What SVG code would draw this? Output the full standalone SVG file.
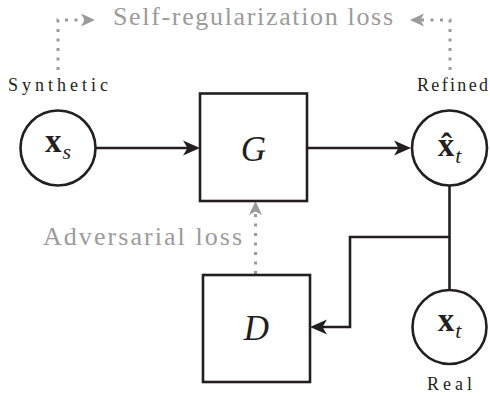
<svg xmlns="http://www.w3.org/2000/svg" width="490" height="396" viewBox="0 0 490 396" font-family="'Liberation Serif', 'Times New Roman', Times, 'DejaVu Serif', serif">
  <style>
    .node { fill: #ffffff; stroke: #231f20; stroke-width: 2.6; }
    .wire { fill: none; stroke: #231f20; stroke-width: 2.6; }
    .dots { fill: none; stroke: #9b9b9b; stroke-width: 3; stroke-dasharray: 3 6.5; }
    .loss { font-size: 26px; fill: #9b9b9b; }
    .cap  { font-size: 18px; fill: #231f20; }
    .math { font-size: 33px; fill: #231f20; }
    .op   { font-size: 35px; font-style: italic; fill: #231f20; }
    .sub  { font-size: 22px; font-style: italic; font-weight: normal; }
  </style>
  <defs>
    <!-- stealth-style heads; the tip sits ahead of the path end -->
    <marker id="head" markerUnits="userSpaceOnUse" viewBox="-8 -8 19 16" refX="0" refY="0" markerWidth="19" markerHeight="16" orient="auto">
      <path d="M10,0 L-7,-7.5 L-2.5,0 L-7,7.5 Z" fill="#231f20"/>
    </marker>
    <marker id="grayhead" markerUnits="userSpaceOnUse" viewBox="-7 -7 16 14" refX="0" refY="0" markerWidth="16" markerHeight="14" orient="auto">
      <path d="M8,0 L-6,-6.5 L-2.5,0 L-6,6.5 Z" fill="#9b9b9b"/>
    </marker>
  </defs>

  <!-- connectors -->
  <g id="connectors">
    <path class="wire" d="M95.5,148 H190" marker-end="url(#head)"/>
    <path class="wire" d="M307,148 H401" marker-end="url(#head)"/>
    <path class="wire" d="M449.5,185.5 V289.5"/>
    <path class="wire" d="M449.5,237 H350 V327 H320" marker-end="url(#head)"/>
    <path class="dots" d="M58,70 V20 H87" marker-end="url(#grayhead)"/>
    <path class="dots" d="M450,70 V20 H418" marker-end="url(#grayhead)"/>
    <path class="dots" d="M255.5,274 V209" marker-end="url(#grayhead)"/>
  </g>

  <!-- loss labels -->
  <text class="loss" font-family="Liberation Serif" x="113" y="25" textLength="280" lengthAdjust="spacing">Self-regularization loss</text>
  <text class="loss" font-family="Liberation Serif" x="43" y="245" textLength="199" lengthAdjust="spacing">Adversarial loss</text>

  <!-- synthetic image -->
  <g id="synthetic">
    <text class="cap" font-family="Liberation Serif" x="8" y="91" textLength="100" lengthAdjust="spacing">Synthetic</text>
    <circle class="node" cx="58" cy="148" r="37.5"/>
    <text class="math" font-family="Liberation Serif" x="58" y="152" text-anchor="middle"><tspan font-weight="bold">x</tspan><tspan class="sub" dx="1" dy="7">s</tspan></text>
  </g>

  <!-- refiner -->
  <g id="refiner">
    <rect class="node" x="200" y="93.5" width="107" height="107.5"/>
    <text class="op" font-family="Liberation Serif" x="253.5" y="161" text-anchor="middle">G</text>
  </g>

  <!-- refined image -->
  <g id="refined">
    <text class="cap" font-family="Liberation Serif" x="417" y="91" textLength="71" lengthAdjust="spacing">Refined</text>
    <circle class="node" cx="449.5" cy="148" r="37.5"/>
    <text class="math" font-family="Liberation Serif" x="449.5" y="156" text-anchor="middle"><tspan font-weight="bold">x&#x302;</tspan><tspan class="sub" dx="1" dy="7">t</tspan></text>
  </g>

  <!-- discriminator -->
  <g id="discriminator">
    <rect class="node" x="203" y="275" width="107" height="107"/>
    <text class="op" font-family="Liberation Serif" x="256.5" y="340" text-anchor="middle">D</text>
  </g>

  <!-- real image -->
  <g id="real">
    <circle class="node" cx="449.5" cy="327" r="37"/>
    <text class="math" font-family="Liberation Serif" x="449.5" y="331" text-anchor="middle"><tspan font-weight="bold">x</tspan><tspan class="sub" dx="1" dy="7">t</tspan></text>
    <text class="cap" font-family="Liberation Serif" x="427" y="390" textLength="45" lengthAdjust="spacing">Real</text>
  </g>
</svg>
